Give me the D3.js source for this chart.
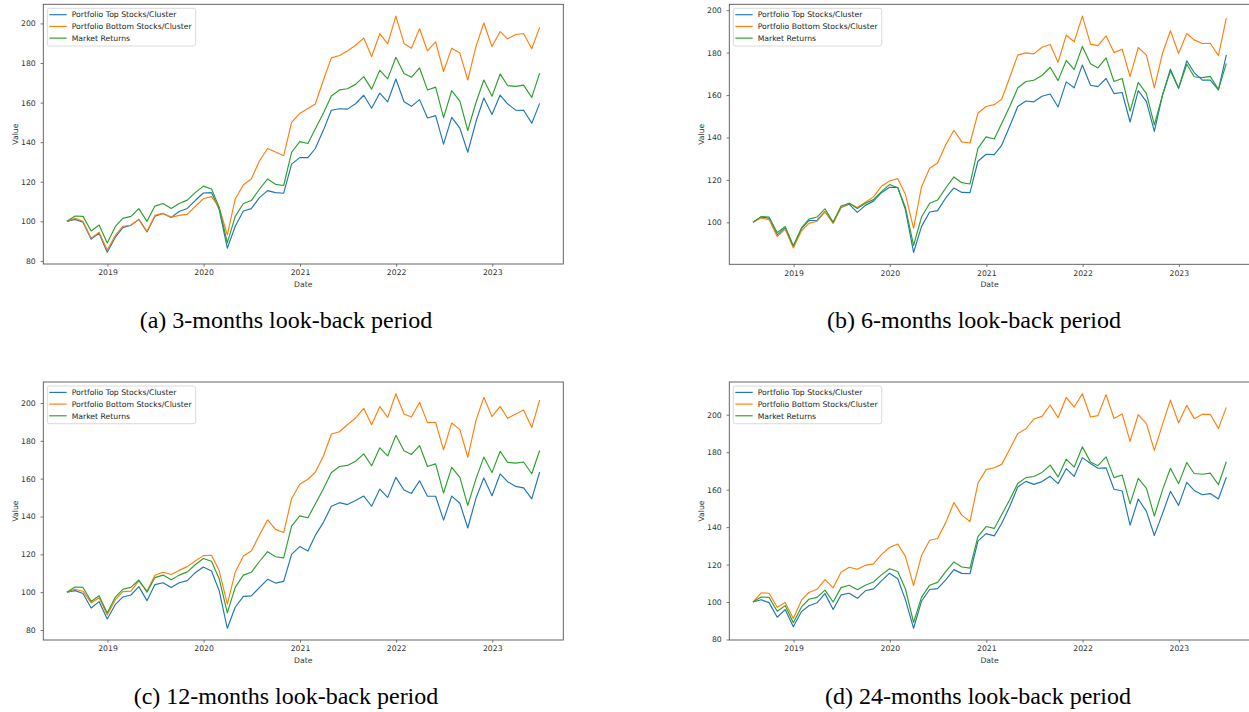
<!DOCTYPE html>
<html>
<head>
<meta charset="utf-8">
<script src="https://cdn.jsdelivr.net/npm/d3@7"></script>
<style>
  html, body { margin: 0; padding: 0; background: #fff; }
  svg { display: block; }
</style>
</head>
<body>
<svg id="chart"></svg>
<script>
// ── Data ──────────────────────────────────────────────────────────────────
var dates = [
  "2018-07-31", "2018-08-31", "2018-09-30", "2018-10-31", "2018-11-30", "2018-12-31",
  "2019-01-31", "2019-02-28", "2019-03-31", "2019-04-30", "2019-05-31", "2019-06-30",
  "2019-07-31", "2019-08-31", "2019-09-30", "2019-10-31", "2019-11-30", "2019-12-31",
  "2020-01-31", "2020-02-29", "2020-03-31", "2020-04-30", "2020-05-31", "2020-06-30",
  "2020-07-31", "2020-08-31", "2020-09-30", "2020-10-31", "2020-11-30", "2020-12-31",
  "2021-01-31", "2021-02-28", "2021-03-31", "2021-04-30", "2021-05-31", "2021-06-30",
  "2021-07-31", "2021-08-31", "2021-09-30", "2021-10-31", "2021-11-30", "2021-12-31",
  "2022-01-31", "2022-02-28", "2022-03-31", "2022-04-30", "2022-05-31", "2022-06-30",
  "2022-07-31", "2022-08-31", "2022-09-30", "2022-10-31", "2022-11-30", "2022-12-31",
  "2023-01-31", "2023-02-28", "2023-03-31", "2023-04-30", "2023-05-31", "2023-06-30"
];

// same market series in every panel
var marketReturns = [
  100, 102.7, 102.5, 95.1, 98.1, 89.0, 97.4, 101.5, 102.5, 106.4, 100.0, 107.7,
  109.0, 106.5, 109.0, 110.7, 114.5, 117.8, 116.3, 107.1, 89.1, 102.5, 109.0, 110.5,
  116.2, 121.4, 118.7, 118.1, 134.9, 140.3, 139.3, 146.6, 154.7, 163.3, 166.4, 167.0,
  169.2, 173.1, 166.8, 176.3, 172.0, 182.9, 174.7, 172.8, 177.5, 166.4, 167.8, 152.4,
  166.0, 160.7, 145.9, 159.9, 171.4, 163.2, 174.5, 168.6, 168.2, 168.8, 162.6, 174.9
];

var top3 = [
  100, 101.0, 99.5, 91.0, 94.0, 84.4, 92.0, 96.8, 98.0, 101.0, 94.6, 102.6,
  104.0, 102.0, 105.0, 106.5, 110.5, 114.3, 114.5, 106.0, 86.4, 97.5, 105.2, 106.4,
  112.0, 115.5, 114.5, 114.2, 128.9, 132.2, 132.2, 136.8, 146.1, 156.1, 156.9, 156.7,
  159.4, 163.7, 157.1, 164.8, 160.4, 171.9, 160.4, 158.1, 161.5, 152.2, 153.4, 139.0,
  152.5, 147.1, 134.9, 150.3, 162.3, 154.0, 163.8, 159.4, 156.2, 156.1, 149.6, 159.6
];
var bottom3 = [
  100, 101.5, 100.0, 91.5, 94.5, 85.5, 93.0, 97.5, 98.0, 101.0, 95.0, 103.0,
  104.0, 102.0, 103.0, 103.5, 107.5, 111.4, 112.5, 107.0, 93.2, 111.3, 118.5, 121.4,
  130.5, 136.8, 135.0, 133.1, 150.0, 154.5, 157.0, 159.3, 171.4, 182.6, 183.8, 186.1,
  189.0, 192.6, 183.3, 194.8, 189.7, 203.7, 189.9, 187.5, 197.3, 186.1, 190.7, 175.7,
  187.5, 185.0, 171.4, 188.3, 200.2, 188.3, 195.9, 192.2, 194.4, 194.9, 187.2, 198.0
];

var top6 = [
  100, 102.5, 102.0, 94.0, 97.5, 88.5, 97.0, 100.8, 101.0, 105.0, 100.0, 107.0,
  108.5, 104.7, 108.0, 110.0, 114.0, 116.5, 116.5, 106.0, 85.8, 98.0, 104.9, 105.5,
  111.5, 116.2, 114.1, 114.0, 128.8, 132.1, 131.9, 136.3, 145.4, 154.6, 157.2, 156.8,
  159.4, 160.5, 154.4, 166.2, 163.4, 174.2, 164.6, 164.0, 167.8, 160.7, 161.2, 147.3,
  162.1, 156.9, 142.9, 160.1, 172.2, 163.2, 176.1, 170.6, 167.0, 167.0, 162.4, 178.9
];
var bottom6 = [
  100, 102.0, 101.3, 93.3, 96.8, 87.9, 96.0, 99.5, 100.5, 105.0, 99.5, 107.0,
  109.0, 107.0, 109.5, 112.0, 117.0, 119.5, 120.6, 113.2, 97.2, 116.7, 125.5, 128.0,
  136.6, 143.4, 137.9, 137.4, 151.4, 154.6, 155.5, 158.0, 168.4, 178.8, 179.9, 179.4,
  182.5, 183.8, 175.5, 188.2, 185.1, 197.2, 184.0, 183.3, 187.9, 180.0, 181.6, 168.7,
  182.4, 178.8, 163.4, 179.7, 190.3, 179.6, 189.0, 186.0, 184.3, 184.4, 178.6, 196.2
];

var top12 = [
  100, 100.8, 99.3, 91.6, 95.0, 85.8, 93.5, 97.4, 98.5, 102.9, 95.5, 104.0,
  105.0, 102.4, 105.0, 106.1, 110.3, 113.3, 111.2, 100.8, 80.9, 92.0, 97.8, 98.0,
  102.4, 106.8, 104.8, 105.7, 120.0, 124.1, 121.7, 130.0, 136.9, 145.4, 147.3, 146.3,
  148.4, 150.8, 145.4, 154.5, 150.1, 160.7, 154.0, 152.2, 158.9, 150.7, 150.7, 138.1,
  150.8, 147.0, 133.9, 149.6, 160.4, 151.0, 162.5, 158.4, 155.9, 155.1, 149.3, 163.5
];
var bottom12 = [
  100, 101.5, 100.5, 94.3, 97.0, 87.9, 96.0, 100.3, 100.5, 106.0, 100.5, 108.9,
  110.5, 109.3, 111.5, 113.5, 116.5, 119.3, 119.5, 111.4, 93.7, 110.5, 119.1, 121.8,
  130.2, 138.2, 133.2, 131.5, 149.4, 157.0, 159.7, 163.4, 172.0, 183.6, 184.8, 188.5,
  192.1, 197.2, 188.5, 198.1, 192.4, 204.9, 194.2, 192.6, 200.4, 189.6, 189.8, 175.2,
  189.4, 185.9, 171.3, 190.7, 203.0, 192.8, 198.2, 191.9, 194.2, 196.3, 187.1, 201.6
];

var top24 = [
  100, 101.2, 99.7, 91.9, 96.0, 86.8, 94.9, 98.0, 99.6, 104.5, 96.0, 103.8,
  104.7, 102.0, 106.0, 107.0, 111.3, 115.4, 112.4, 101.3, 86.0, 100.4, 106.7, 107.2,
  111.8, 117.3, 115.3, 115.1, 132.5, 136.5, 135.3, 141.9, 151.1, 161.4, 164.4, 162.8,
  164.3, 167.1, 163.2, 171.2, 167.1, 177.1, 174.0, 171.4, 171.6, 160.2, 159.3, 141.0,
  155.0, 148.4, 135.5, 147.2, 159.1, 151.6, 163.9, 159.6, 157.3, 157.9, 155.0, 166.6
];
var bottom24 = [
  100, 104.9, 104.7, 97.2, 99.7, 91.2, 101.0, 105.1, 106.8, 112.0, 107.6, 115.9,
  118.6, 117.5, 119.6, 120.4, 125.3, 129.1, 131.0, 124.4, 108.8, 124.8, 133.0, 133.9,
  142.4, 153.1, 146.4, 143.0, 163.4, 170.7, 171.7, 173.5, 181.7, 189.9, 192.5, 197.7,
  199.1, 205.2, 198.4, 209.2, 204.1, 211.2, 198.8, 199.5, 210.7, 198.0, 200.4, 185.8,
  200.0, 195.2, 181.0, 194.8, 207.8, 195.6, 205.0, 197.9, 200.2, 200.2, 192.7, 203.9
];

var seriesNames = ["Portfolio Top Stocks/Cluster", "Portfolio Bottom Stocks/Cluster", "Market Returns"];
var yTickValues = [80, 100, 120, 140, 160, 180, 200];
var xTickYears = ["2019", "2020", "2021", "2022", "2023"];
var captions = [
  "(a) 3-months look-back period",
  "(b) 6-months look-back period",
  "(c) 12-months look-back period",
  "(d) 24-months look-back period"
];

(function () {
  "use strict";

  var W = 1249, H = 712;
  var C = {
    top: "#1f77b4",
    bottom: "#ff7f0e",
    market: "#2ca02c",
    spine: "#555",
    text: "#333",
    font: "'DejaVu Sans', sans-serif",
    serif: "'Liberation Serif', 'Times New Roman', serif"
  };
  var FS = 7.7; // tick/legend font size

  var parse = d3.timeParse("%Y-%m-%d");
  var xDates = dates.map(parse);
  var yearDates = xTickYears.map(function (y) { return parse(y + "-01-01"); });

  // frame boxes of the four axes (pixels)
  var panels = [
    { top: top3,  bottom: bottom3,  box: { l: 43.3,  r: 563.3, t: 4.3, b: 264 }, cap: { x: 286, y: 328 } },
    { top: top6,  bottom: bottom6,  box: { l: 729.3, r: 1250,  t: 4.3, b: 264.3 }, cap: { x: 974, y: 328 } },
    { top: top12, bottom: bottom12, box: { l: 43.3,  r: 563.3, t: 382, b: 640 }, cap: { x: 286, y: 704 } },
    { top: top24, bottom: bottom24, box: { l: 729.3, r: 1250,  t: 382, b: 640 }, cap: { x: 978, y: 704 } }
  ];

  var svg = d3.select("#chart").attr("width", W).attr("height", H);

  // matplotlib-style 5% padding
  function padExtent(ext) {
    var s = ext[1] - ext[0];
    return [ext[0] - s * 0.05, ext[1] + s * 0.05];
  }

  panels.forEach(function (p, pi) {
    var bx = p.box;
    var series = [
      { name: seriesNames[0], values: p.top,      color: C.top },
      { name: seriesNames[1], values: p.bottom,   color: C.bottom },
      { name: seriesNames[2], values: marketReturns, color: C.market }
    ];

    var tExt = d3.extent(xDates).map(Number);
    var xDom = padExtent(tExt).map(function (t) { return new Date(t); });
    var x = d3.scaleTime().domain(xDom).range([bx.l, bx.r]);

    var all = [].concat(p.top, p.bottom, marketReturns);
    var yDom = padExtent(d3.extent(all));
    var y = d3.scaleLinear().domain(yDom).range([bx.b, bx.t]);

    var g = svg.append("g").attr("class", "panel panel-" + pi);

    // clip so lines stay inside the frame
    var clipId = "clip-" + pi;
    g.append("clipPath").attr("id", clipId)
      .append("rect")
      .attr("x", bx.l).attr("y", bx.t)
      .attr("width", bx.r - bx.l).attr("height", bx.b - bx.t);

    // ── Axes ───────────────────────────────────────────────────────────────
    var yAxis = d3.axisLeft(y)
      .tickValues(yTickValues.filter(function (v) { return v >= yDom[0] && v <= yDom[1]; }))
      .tickSize(2.7).tickPadding(4.9)
      .tickFormat(d3.format("d"));
    var xAxis = d3.axisBottom(x)
      .tickValues(yearDates)
      .tickSize(2.7).tickPadding(3.2)
      .tickFormat(d3.timeFormat("%Y"));

    var gy = g.append("g").attr("transform", "translate(" + bx.l + ",0)").call(yAxis);
    var gx = g.append("g").attr("transform", "translate(0," + bx.b + ")").call(xAxis);
    [gx, gy].forEach(function (ax) {
      ax.select(".domain").remove();
      ax.selectAll(".tick line").attr("stroke", C.spine).attr("stroke-width", 0.8);
      ax.selectAll(".tick text")
        .attr("fill", C.text)
        .style("font-family", C.font)
        .style("font-size", FS + "px");
    });

    // ── Lines ──────────────────────────────────────────────────────────────
    var line = d3.line()
      .x(function (d, i) { return x(xDates[i]); })
      .y(function (d) { return y(d); });

    g.append("g").attr("clip-path", "url(#" + clipId + ")")
      .selectAll("path")
      .data(series)
      .join("path")
      .attr("d", function (s) { return line(s.values); })
      .attr("fill", "none")
      .attr("stroke", function (s) { return s.color; })
      .attr("stroke-width", 1.15)
      .attr("stroke-linejoin", "round");

    // frame
    g.append("rect")
      .attr("x", bx.l).attr("y", bx.t)
      .attr("width", bx.r - bx.l).attr("height", bx.b - bx.t)
      .attr("fill", "none")
      .attr("stroke", C.spine)
      .attr("stroke-width", 0.9);

    // axis titles
    g.append("text")
      .attr("x", (bx.l + bx.r) / 2).attr("y", bx.b + 22.5)
      .attr("text-anchor", "middle")
      .attr("fill", C.text)
      .style("font-family", C.font).style("font-size", FS + "px")
      .text("Date");
    g.append("text")
      .attr("transform", "translate(" + (bx.l - 25.5) + "," + ((bx.t + bx.b) / 2) + ") rotate(-90)")
      .attr("text-anchor", "middle")
      .attr("fill", C.text)
      .style("font-family", C.font).style("font-size", FS + "px")
      .text("Value");

    // ── Legend ─────────────────────────────────────────────────────────────
    var lg = g.append("g").attr("transform", "translate(" + (bx.l + 4) + "," + (bx.t + 4) + ")");
    lg.append("rect")
      .attr("width", 148.4).attr("height", 37.7)
      .attr("rx", 2)
      .attr("fill", "#fff").attr("fill-opacity", 0.8)
      .attr("stroke", "#d0d0d0").attr("stroke-width", 0.8);
    var rows = lg.selectAll("g.row")
      .data(series)
      .join("g")
      .attr("class", "row")
      .attr("transform", function (d, i) { return "translate(0," + (6.4 + i * 11.7) + ")"; });
    rows.append("line")
      .attr("x1", 2).attr("x2", 19.4)
      .attr("stroke", function (d) { return d.color; })
      .attr("stroke-width", 1.15);
    rows.append("text")
      .attr("x", 24.4).attr("dy", "0.35em")
      .attr("fill", "#222")
      .style("font-family", C.font).style("font-size", FS + "px")
      .text(function (d) { return d.name; });

    // ── Caption ────────────────────────────────────────────────────────────
    svg.append("text")
      .attr("x", p.cap.x).attr("y", p.cap.y)
      .attr("text-anchor", "middle")
      .attr("fill", "#000")
      .style("font-family", C.serif).style("font-size", "24px")
      .text(captions[pi]);
  });
})();
</script>
</body>
</html>
